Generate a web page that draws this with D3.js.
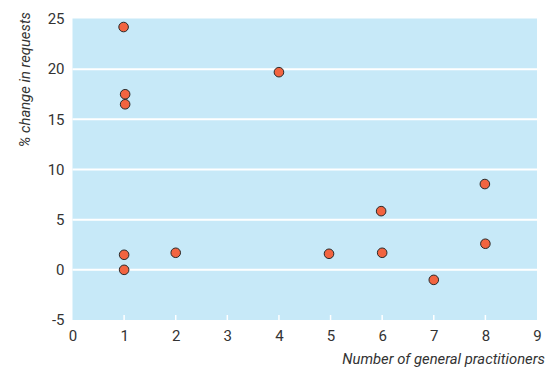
<!DOCTYPE html>
<html><head><meta charset="utf-8">
<script src="https://cdn.jsdelivr.net/npm/d3@7"></script>
<style>
body{margin:0;background:#fff;}
text{font-family:"Roboto","Liberation Sans",sans-serif;fill:#333;}
</style></head>
<body><svg id="c" width="552" height="368"></svg>
<script>
const gpCount = [0.99, 1.02, 1.02, 4, 1, 1, 2, 4.97, 6, 5.98, 7.99, 8, 7];
const pctChange = [24.2, 17.5, 16.5, 19.7, 1.5, 0, 1.7, 1.6, 1.7, 5.85, 8.55, 2.6, -1.0];
const xTicks = [0,1,2,3,4,5,6,7,8,9];
const yTicks = [-5,0,5,10,15,20,25];

const svg = d3.select("#c");
const L = 72.5, R = 537, T = 18.5, B = 320;
const x = d3.scaleLinear().domain([0,9]).range([L,R]);
const y = d3.scaleLinear().domain([-5,25]).range([B,T+0.5]);

svg.append("rect").attr("x",L).attr("y",T).attr("width",R-L).attr("height",B-T).attr("fill","#c7e9f8");

// gridlines
svg.append("g").selectAll("line").data(yTicks.filter(d=>d>-5 && d<25)).join("line")
  .attr("x1",L).attr("x2",R).attr("y1",d=>y(d)).attr("y2",d=>y(d))
  .attr("stroke","#fff").attr("stroke-width",2);

// x tick marks inside
svg.append("g").selectAll("line").data(xTicks.filter(d=>d>0 && d<9)).join("line")
  .attr("x1",d=>x(d)).attr("x2",d=>x(d)).attr("y1",B-5).attr("y2",B)
  .attr("stroke","#fff").attr("stroke-width",1.5);

const fmt = d => String(d);
const xAxis = svg.append("g").attr("transform",`translate(0,${B})`)
  .call(d3.axisBottom(x).tickValues(xTicks).tickSize(0).tickPadding(10).tickFormat(fmt));
xAxis.select(".domain").remove();
xAxis.selectAll("text").style("font-size","15px").attr("fill","#333");

const yAxis = svg.append("g").attr("transform",`translate(${L},0)`)
  .call(d3.axisLeft(y).tickValues(yTicks).tickSize(0).tickPadding(8).tickFormat(fmt));
yAxis.select(".domain").remove();
yAxis.selectAll("text").style("font-size","15px").attr("fill","#333");

// points
svg.append("g").selectAll("circle").data(gpCount.map((g,i)=>[g,pctChange[i]])).join("circle")
  .attr("cx",d=>x(d[0])).attr("cy",d=>y(d[1])).attr("r",4.8)
  .attr("fill","#f26440").attr("stroke","#2a2a2a").attr("stroke-width",1);

// titles
svg.append("text").attr("x",545).attr("y",364).attr("text-anchor","end")
  .style("font-size","14.8px").style("font-style","italic").text("Number of general practitioners");
svg.append("text").attr("transform","translate(30,12) rotate(-90)").attr("text-anchor","end")
  .style("font-size","14.8px").style("font-style","italic").text("% change in requests");
</script></body></html>
